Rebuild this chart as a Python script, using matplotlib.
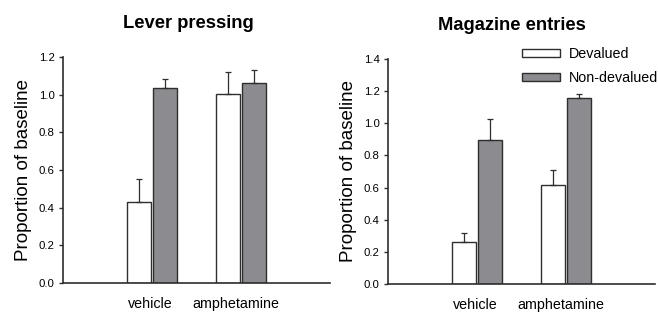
import numpy as np
import matplotlib
matplotlib.use("Agg")
import matplotlib.pyplot as plt

plt.rcParams['font.family'] = ['Liberation Sans', 'DejaVu Sans']

groups = ["vehicle", "amphetamine"]
series = ["Devalued", "Non-devalued"]

lever_deval = [0.43, 1.005]
lever_deval_err = [0.125, 0.115]
lever_nondeval = [1.035, 1.06]
lever_nondeval_err = [0.05, 0.07]

mag_deval = [0.26, 0.615]
mag_deval_err = [0.055, 0.095]
mag_nondeval = [0.895, 1.155]
mag_nondeval_err = [0.13, 0.03]

edge = "#2e2e2e"
grey = "#8c8c90"

fig = plt.figure(figsize=(6.58, 3.12), dpi=100)
ax1 = fig.add_axes([0.0957, 0.093, 0.4058, 0.724])
ax2 = fig.add_axes([0.5897, 0.090, 0.4057, 0.721])

x = np.arange(1, len(groups) + 1)
w = 0.27
off = 0.145


def panel(ax, dv, dve, nd, nde, ymax, title, title_x):
    ax.bar(x - off, dv, w, color="white", edgecolor=edge, linewidth=1.0,
           yerr=[np.zeros(len(dve)), dve], error_kw=dict(ecolor=edge, elinewidth=0.9, capsize=2.3, capthick=0.9),
           label=series[0], zorder=2)
    ax.bar(x + off, nd, w, color=grey, edgecolor=edge, linewidth=1.0,
           yerr=[np.zeros(len(nde)), nde], error_kw=dict(ecolor=edge, elinewidth=0.9, capsize=2.3, capthick=0.9),
           label=series[1], zorder=2)
    ax.set_xlim(0, 3)
    ax.set_ylim(0, ymax)
    ax.set_yticks(np.arange(0, ymax + 0.01, 0.2))
    ax.set_yticklabels(["%.1f" % v for v in np.arange(0, ymax + 0.01, 0.2)])
    ax.set_xticks(x - np.array([0.02, 0.055]))
    ax.set_xticklabels(groups, fontsize=10.3)
    ax.tick_params(axis='x', length=0, pad=10)
    ax.tick_params(axis='y', labelsize=8.2, length=3, width=1, pad=3, color=edge)
    for s in ["top", "right"]:
        ax.spines[s].set_visible(False)
    for s in ["left", "bottom"]:
        ax.spines[s].set_linewidth(1.2)
        ax.spines[s].set_color(edge)
    ax.set_ylabel("Proportion of baseline", fontsize=13.5, labelpad=5)
    ax.set_title(title, fontsize=13.2, fontweight="bold", x=title_x, pad=21)


panel(ax1, lever_deval, lever_deval_err, lever_nondeval, lever_nondeval_err, 1.2,
      "Lever pressing", 0.47)
panel(ax2, mag_deval, mag_deval_err, mag_nondeval, mag_nondeval_err, 1.4,
      "Magazine entries", 0.465)

ax2.legend(loc="upper right", bbox_to_anchor=(1.06, 1.11), frameon=False, fontsize=10.3,
           handlelength=2.7, handleheight=0.45, handletextpad=0.6, labelspacing=0.7)

plt.savefig("out.png", dpi=100)
